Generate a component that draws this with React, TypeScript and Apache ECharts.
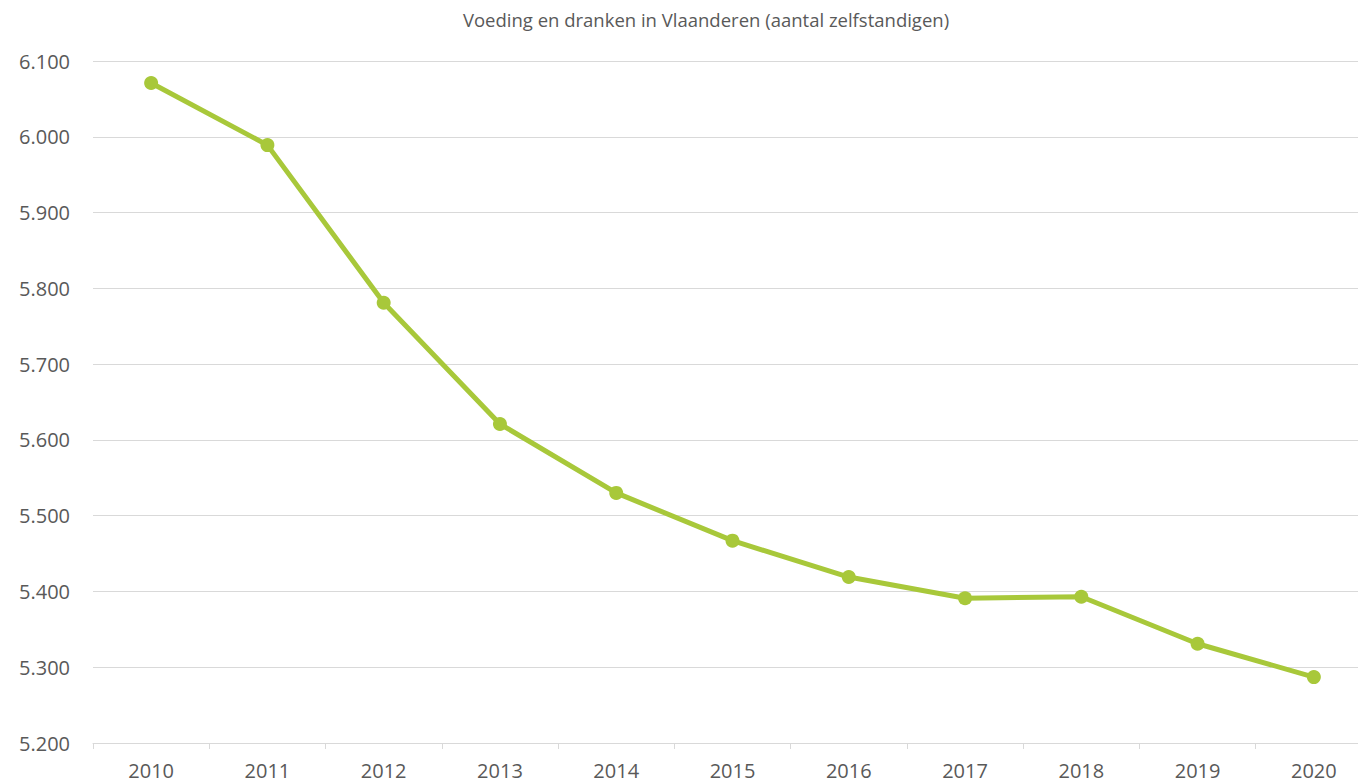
import React, { useEffect, useRef } from "react";
import * as echarts from "echarts";

const title = "Voeding en dranken in Vlaanderen (aantal zelfstandigen)";
const years = ["2010", "2011", "2012", "2013", "2014", "2015", "2016", "2017", "2018", "2019", "2020"];
const values = [6071, 5989, 5781, 5621, 5530, 5467, 5419, 5391, 5393, 5331, 5287];

export default function App() {
  const ref = useRef<HTMLDivElement>(null);
  useEffect(() => {
    const chart = echarts.init(ref.current!, null, { renderer: "svg" });
    chart.setOption({
      animation: false,
      backgroundColor: "#ffffff",
      title: {
        text: title,
        left: 701,
        top: 5,
        textAlign: "center",
        textStyle: { fontFamily: "Open Sans", fontSize: 18.5, fontWeight: "normal", color: "#595959" },
      },
      grid: { left: 93, top: 61, width: 1279, height: 682, containLabel: false },
      xAxis: {
        type: "category",
        data: years,
        boundaryGap: true,
        axisLine: { lineStyle: { color: "#D9D9D9", width: 1 } },
        axisTick: { show: true, length: 6, lineStyle: { color: "#D9D9D9" } },
        axisLabel: { fontFamily: "Open Sans", fontSize: 20, color: "#595959", margin: 17 },
      },
      yAxis: {
        type: "value",
        min: 5200,
        max: 6100,
        interval: 100,
        axisLine: { show: false },
        axisTick: { show: false },
        splitLine: { lineStyle: { color: "#D9D9D9", width: 1 } },
        axisLabel: {
          fontFamily: "Open Sans",
          fontSize: 20,
          color: "#595959",
          margin: 23,
          formatter: (v: number) => (v / 1000).toFixed(3),
        },
      },
      series: [
        {
          type: "line",
          data: values,
          symbol: "circle",
          symbolSize: 14,
          lineStyle: { color: "#A8C83A", width: 5 },
          itemStyle: { color: "#A8C83A" },
        },
      ],
    });
    return () => chart.dispose();
  }, []);
  return (
    <div style={{ position: "fixed", left: 0, top: 0, width: 1358, height: 783, overflow: "hidden" }}>
      <div ref={ref} style={{ position: "absolute", left: 0, top: 0, width: 1380, height: 783 }} />
    </div>
  );
}
